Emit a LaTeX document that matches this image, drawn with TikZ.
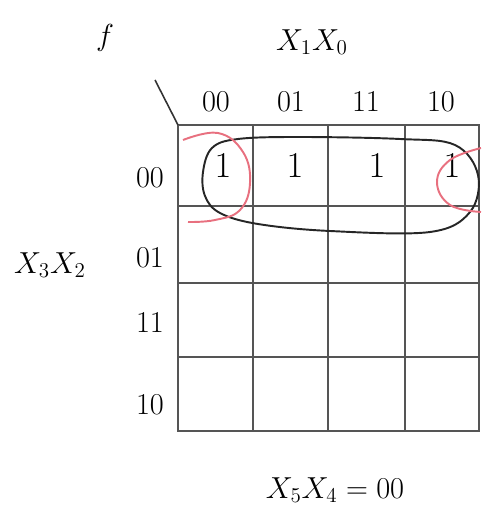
\documentclass[tikz,border=0pt]{standalone}
\usepackage{amsmath}
\usetikzlibrary{calc, positioning}
\definecolor{mapink}{HTML}{E8707F}
\definecolor{mapgrey}{HTML}{555555}

\begin{document}
\begin{tikzpicture}[
    x=0.02cm,
    y=-0.02cm,
    font=\fontsize{17}{19}\selectfont,
    gridline/.style={
        draw=mapgrey,
        line width=0.9pt
    },
    headlabel/.style={
        inner sep=1pt,
        anchor=center
    },
    cellone/.style={
        inner sep=1pt,
        font=\fontsize{21}{23}\selectfont
    },
    blackloop/.style={
        draw=black!85,
        line width=1.1pt
    },
    redloop/.style={
        draw=mapink,
        line width=1.1pt
    }
]

\useasboundingbox (0,0) rectangle (481,506);

% -----------------------------------------------------
% Gitter
% -----------------------------------------------------

\coordinate (corner) at (178,125);
\coordinate (diagtop) at (155,80);

\draw[gridline] (178,125) rectangle (479,431);
\foreach \xc in {253,328,405}
    \draw[gridline] (\xc,125) -- (\xc,431);
\foreach \yc in {206,283,357}
    \draw[gridline] (178,\yc) -- (479,\yc);

\draw[gridline, draw=black!80] (diagtop) -- (corner);

% -----------------------------------------------------
% Tekster
% -----------------------------------------------------

\node[headlabel] (fname) at (105,38) {$f$};
\node[headlabel] (colvars) at (312,42) {$X_1X_0$};
\node[headlabel] (rowvars) at (50,265) {$X_3X_2$};
\node[headlabel] (pagevars) at (335,490) {$X_5X_4=00$};

\node[headlabel] (c00) at (216,102) {$00$};
\node[headlabel] (c01) at (291,102) {$01$};
\node[headlabel] (c11) at (366,102) {$11$};
\node[headlabel] (c10) at (441,102) {$10$};

\node[headlabel] (r00) at (150,178) {$00$};
\node[headlabel] (r01) at (150,258) {$01$};
\node[headlabel] (r11) at (150,323) {$11$};
\node[headlabel] (r10) at (150,405) {$10$};

\node[cellone] (one1) at (223,166) {$1$};
\node[cellone] (one2) at (295,166) {$1$};
\node[cellone] (one3) at (377,166) {$1$};
\node[cellone] (one4) at (452,166) {$1$};

% -----------------------------------------------------
% Grupperinger
% -----------------------------------------------------

\draw[blackloop] plot[smooth cycle, tension=0.6] coordinates {
    (203,172) (212,148) (238,139) (300,137) (400,139) (455,145)
    (478,175) (470,212) (430,232) (330,231) (258,224) (220,213) (205,196)};

\draw[redloop] plot[smooth, tension=0.7] coordinates {
    (183,140) (218,133) (243,152) (250,183) (240,210) (215,220) (188,222)};

\draw[redloop] plot[smooth, tension=0.7] coordinates {
    (481,148) (450,160) (437,182) (450,205) (481,212)};

\end{tikzpicture}
\end{document}
